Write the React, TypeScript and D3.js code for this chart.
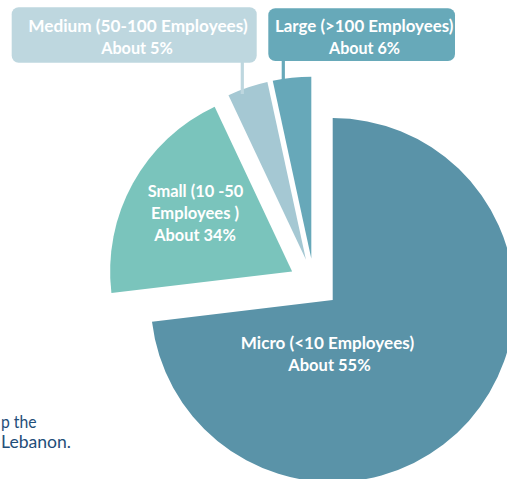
import React from "react";
import * as d3 from "d3";

// Data (slice angles) and its text labels
const categories = ["Micro (<10 Employees)", "Small (10 -50 Employees )", "Medium (50-100 Employees)", "Large (>100 Employees)"];
const values = [73.1, 19.9, 3.6, 3.4];
const shareLabels = ["About 55%", "About 34%", "About 5%", "About 6%"];
const sliceColors = ["#5a93a8", "#7ac4bc", "#a5c8d3", "#67a8b9"];
const boxColors = ["", "", "#bed7df", "#67a9b9"];
const noteLines = ["p the", "Lebanon."];

const W = 507;
const H = 479;
const CX = 314;
const CY = 283.5;
const R = 182;
const EXPLODE = 25;

const FONT = "Lato, 'Open Sans', sans-serif";

type Line = { text: string; x: number; y: number; w: number };

export default function App() {
  const pie = d3
    .pie<number>()
    .sort(null)
    .value((d) => d)
    .startAngle(0)
    .endAngle(2 * Math.PI);
  const arcs = pie(values);
  const arcGen = d3.arc<d3.PieArcDatum<number>>().innerRadius(0).outerRadius(R);

  const microLines: Line[] = [
    { text: categories[0], x: 327.5, y: 349.3, w: 173.3 },
    { text: shareLabels[0], x: 329.5, y: 371, w: 82.3 },
  ];
  const smallParts = categories[1].split(" ");
  const smallLines: Line[] = [
    { text: `${smallParts[0]} ${smallParts[1]} ${smallParts[2]}`, x: 195.5, y: 197.3, w: 95.7 },
    { text: `${smallParts[3]} ${smallParts[4]}`, x: 195, y: 219.3, w: 88 },
    { text: shareLabels[1], x: 195, y: 240.7, w: 81.7 },
  ];

  const boxes = [
    {
      idx: 2,
      x0: 11.7, x1: 256.7, y0: 7.3, y1: 62.7,
      lines: [
        { text: categories[2], x: 138, y: 31.7, w: 219.4 },
        { text: shareLabels[2], x: 137, y: 54, w: 71.7 },
      ] as Line[],
      leader: { x: 242.3, y0: 62, y1: 94 },
    },
    {
      idx: 3,
      x0: 268.3, x1: 455, y0: 8.3, y1: 61,
      lines: [
        { text: categories[3], x: 364.2, y: 31.7, w: 178.3 },
        { text: shareLabels[3], x: 364.5, y: 54, w: 71 },
      ] as Line[],
      leader: { x: 283.3, y0: 60, y1: 80 },
    },
  ];

  const renderLine = (l: Line, key: string, fill = "#ffffff") => (
    <text
      key={key}
      x={l.x}
      y={l.y}
      textAnchor="middle"
      fill={fill}
      fontFamily={FONT}
      fontWeight={700}
      fontSize={17.5}
      textLength={l.w}
      lengthAdjust="spacingAndGlyphs"
    >
      {l.text}
    </text>
  );

  return (
    <svg
      width={W}
      height={H}
      viewBox={`0 0 ${W} ${H}`}
      style={{ position: "absolute", left: 0, top: 0, background: "#ffffff" }}
    >
      {arcs.map((a, i) => {
        const mid = (a.startAngle + a.endAngle) / 2;
        const dx = CX + EXPLODE * Math.sin(mid);
        const dy = CY - EXPLODE * Math.cos(mid);
        return (
          <path key={i} d={arcGen(a) || ""} transform={`translate(${dx},${dy})`} fill={sliceColors[i]} />
        );
      })}

      {boxes.map((b) => (
        <g key={b.idx}>
          <line
            x1={b.leader.x}
            x2={b.leader.x}
            y1={b.leader.y0}
            y2={b.leader.y1}
            stroke={boxColors[b.idx]}
            strokeWidth={3.2}
          />
          <rect
            x={b.x0}
            y={b.y0}
            width={b.x1 - b.x0}
            height={b.y1 - b.y0}
            rx={7}
            ry={7}
            fill={boxColors[b.idx]}
          />
          {b.lines.map((l, j) => renderLine(l, `b${b.idx}-${j}`))}
        </g>
      ))}

      {smallLines.map((l, j) => renderLine(l, `s${j}`))}
      {microLines.map((l, j) => renderLine(l, `m${j}`))}

      <text x={1} y={428} fill="#1f4e79" fontFamily={FONT} fontSize={16.5} textLength={35.5} lengthAdjust="spacingAndGlyphs">
        {noteLines[0]}
      </text>
      <text x={1} y={448} fill="#1f4e79" fontFamily={FONT} fontSize={16.5} textLength={70} lengthAdjust="spacingAndGlyphs">
        {noteLines[1]}
      </text>
    </svg>
  );
}
